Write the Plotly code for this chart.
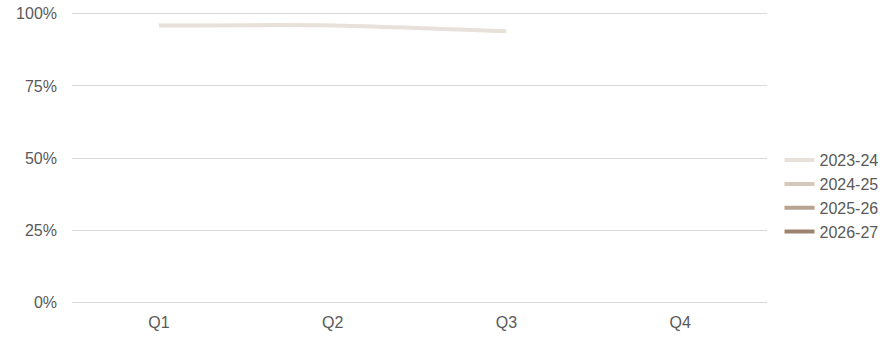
import plotly.graph_objects as go

quarters = ["Q1", "Q2", "Q3", "Q4"]
series_names = ["2023-24", "2024-25", "2025-26", "2026-27"]
values_2023_24 = [0.96, 0.96, 0.94, None]
values_2024_25 = [None, None, None, None]
values_2025_26 = [None, None, None, None]
values_2026_27 = [None, None, None, None]
colors = ["#e8e1d9", "#d5c7ba", "#b8a290", "#9d836f"]
tick_vals = [0, 0.25, 0.5, 0.75, 1.0]
tick_text = ["0%", "25%", "50%", "75%", "100%"]

fig = go.Figure()
for name, vals, col in zip(series_names,
                           [values_2023_24, values_2024_25, values_2025_26, values_2026_27],
                           colors):
    fig.add_trace(go.Scatter(x=quarters, y=vals, name=name, mode="lines",
                             line=dict(color=col, width=4, shape="spline", smoothing=0.6),
                             hoverinfo="x+y+name"))

fig.update_layout(
    width=890, height=337,
    margin=dict(l=72, r=123, t=11, b=32, autoexpand=False),
    paper_bgcolor="white", plot_bgcolor="white",
    font=dict(family="Liberation Sans, Arial, sans-serif", size=16, color="#595959"),
    showlegend=True,
    legend=dict(x=1.018, xanchor="left", y=0.37, yanchor="middle",
                font=dict(size=16, color="#595959"), tracegroupgap=0,
                itemwidth=30, bgcolor="rgba(0,0,0,0)"),
    xaxis=dict(type="category", categoryorder="array", categoryarray=quarters,
               range=[-0.5, 3.5], showgrid=False, showline=False, zeroline=False,
               ticks="", ticklabelstandoff=6, tickfont=dict(size=16, color="#595959")),
    yaxis=dict(range=[-0.01, 1.01], tickvals=tick_vals, ticktext=tick_text,
               showgrid=True, gridcolor="#d9d9d9", gridwidth=1, zeroline=False,
               showline=False, ticks="", ticklen=0, ticklabelstandoff=14,
               tickfont=dict(size=16, color="#595959")),
)
fig.write_html("out.html")
